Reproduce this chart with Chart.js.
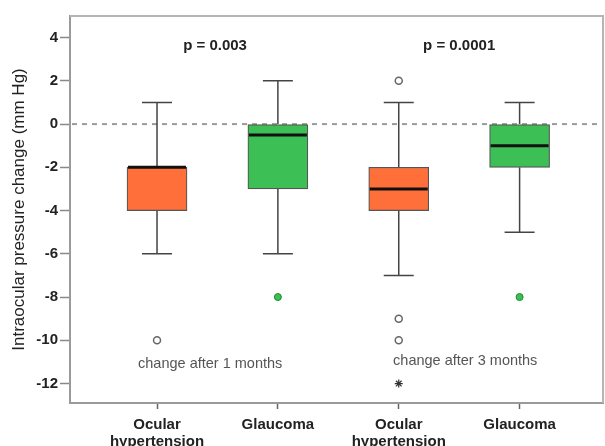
<!DOCTYPE html>
<html>
<head>
<meta charset="utf-8">
<script src="https://cdn.jsdelivr.net/npm/chart.js@4/dist/chart.umd.min.js"></script>
<style>
  html, body { margin: 0; padding: 0; background: #fff; }
  #wrap { width: 605px; height: 446px; }
</style>
</head>
<body>
<div id="wrap"><canvas id="box-chart" width="605" height="446"></canvas></div>
<script>
// Box positions and labels
const positions = [1, 2, 3, 4];
const groupLabels = [['Ocular', 'hypertension'], 'Glaucoma', ['Ocular', 'hypertension'], 'Glaucoma'];
const boxColors = ['#FF6F3A', '#3CBF55', '#FF6F3A', '#3CBF55'];

// Box statistics (mm Hg)
const whiskerLow = [-6, -6, -7, -5];
const q1 = [-4, -3, -4, -2];
const median = [-2, -0.5, -3, -1];
const q3 = [-2, 0, -2, 0];
const whiskerHigh = [1, 2, 1, 1];

// Outliers
const openOutliers = [{ x: 1, y: -10 }, { x: 3, y: 2 }, { x: 3, y: -9 }, { x: 3, y: -10 }];
const greenOutliers = [{ x: 2, y: -8 }, { x: 4, y: -8 }];
const extremeOutliers = [{ x: 3, y: -12 }];

// Y axis ticks
const yTicks = [4, 2, 0, -2, -4, -6, -8, -10, -12];

// Annotations
const pLabels = [{ x: 1.48, y: 3.6, text: 'p = 0.003' }, { x: 3.5, y: 3.6, text: 'p = 0.0001' }];
const periodLabels = [{ x: 1.44, y: -11.1, text: 'change after 1 months' }, { x: 3.55, y: -10.95, text: 'change after 3 months' }];

const boxData = positions.map((p, i) => ({ x: p, y: [q1[i], q3[i]] }));
const FONT = '"Liberation Sans", Arial, sans-serif';

// draws reference line, whiskers, medians, frame and texts
const boxPlugin = {
    id: 'boxExtras',
    beforeDatasetsDraw(chart) {
        const { ctx, chartArea, scales: { x, y } } = chart;
        const y0 = y.getPixelForValue(0);
        ctx.save();
        ctx.strokeStyle = '#9a9a9a';
        ctx.lineWidth = 2;
        ctx.setLineDash([5, 5]);
        ctx.beginPath();
        ctx.moveTo(chartArea.left + 2, y0);
        ctx.lineTo(chartArea.right, y0);
        ctx.stroke();
        ctx.setLineDash([]);

        // whiskers behind the boxes
        ctx.strokeStyle = '#444';
        ctx.lineWidth = 1.5;
        positions.forEach((p, i) => {
            const px = x.getPixelForValue(p);
            const capHalf = 15;
            ctx.beginPath();
            ctx.moveTo(px, y.getPixelForValue(q3[i]));
            ctx.lineTo(px, y.getPixelForValue(whiskerHigh[i]));
            ctx.moveTo(px, y.getPixelForValue(q1[i]));
            ctx.lineTo(px, y.getPixelForValue(whiskerLow[i]));
            ctx.stroke();
            ctx.beginPath();
            ctx.moveTo(px - capHalf, y.getPixelForValue(whiskerHigh[i]));
            ctx.lineTo(px + capHalf, y.getPixelForValue(whiskerHigh[i]));
            ctx.moveTo(px - capHalf, y.getPixelForValue(whiskerLow[i]));
            ctx.lineTo(px + capHalf, y.getPixelForValue(whiskerLow[i]));
            ctx.stroke();
        });
        ctx.restore();
    },
    afterDatasetsDraw(chart) {
        const { ctx, chartArea, scales: { x, y } } = chart;
        ctx.save();
        // medians
        ctx.strokeStyle = '#111';
        ctx.lineWidth = 3;
        positions.forEach((p, i) => {
            const px = x.getPixelForValue(p);
            const py = y.getPixelForValue(median[i]);
            ctx.beginPath();
            ctx.moveTo(px - 29, py);
            ctx.lineTo(px + 29, py);
            ctx.stroke();
        });

        // top and right frame
        ctx.strokeStyle = '#b5b5b5';
        ctx.lineWidth = 2;
        ctx.beginPath();
        ctx.moveTo(chartArea.left, chartArea.top);
        ctx.lineTo(chartArea.right, chartArea.top);
        ctx.lineTo(chartArea.right, chartArea.bottom);
        ctx.stroke();

        // texts
        ctx.textAlign = 'center';
        ctx.textBaseline = 'middle';
        ctx.fillStyle = '#222';
        ctx.font = 'bold 15px ' + FONT;
        pLabels.forEach(l => ctx.fillText(l.text, x.getPixelForValue(l.x), y.getPixelForValue(l.y)));
        ctx.fillStyle = '#555';
        ctx.font = '14.5px ' + FONT;
        periodLabels.forEach(l => ctx.fillText(l.text, x.getPixelForValue(l.x), y.getPixelForValue(l.y)));
        ctx.restore();
    }
};

const ctx = document.getElementById('box-chart').getContext('2d');
new Chart(ctx, {
    type: 'bar',
    data: {
        datasets: [{
            type: 'bar',
            label: 'boxes',
            data: boxData,
            backgroundColor: boxColors,
            borderColor: '#555',
            borderWidth: 1.2,
            borderSkipped: false,
            barThickness: 60,
            order: 2,
        }, {
            type: 'scatter',
            label: 'outliers',
            data: openOutliers,
            pointStyle: 'circle',
            pointRadius: 3.5,
            backgroundColor: '#fff',
            borderColor: '#666',
            borderWidth: 1.5,
            order: 1,
        }, {
            type: 'scatter',
            label: 'outliers green',
            data: greenOutliers,
            pointStyle: 'circle',
            pointRadius: 3.5,
            backgroundColor: '#3CBF55',
            borderColor: '#1E8A30',
            borderWidth: 1,
            order: 1,
        }, {
            type: 'scatter',
            label: 'extreme',
            data: extremeOutliers,
            pointStyle: 'star',
            pointRadius: 4,
            borderColor: '#333',
            borderWidth: 1.2,
            order: 1,
        }],
    },
    options: {
        responsive: false,
        animation: false,
        layout: { autoPadding: false, padding: { left: 0, top: 16, right: 2, bottom: 0 } },
        plugins: {
            legend: { display: false },
            tooltip: { enabled: false },
        },
        scales: {
            x: {
                type: 'linear',
                offset: false,
                min: 0.28,
                max: 4.69,
                afterBuildTicks: scale => { scale.ticks = positions.map(v => ({ value: v })); },
                afterFit: scale => {
                    scale.height = 43;
                    scale.paddingLeft = 0;
                    scale.paddingRight = 0;
                },
                grid: { offset: false, drawOnChartArea: false, tickLength: 6, tickColor: '#666', tickWidth: 1.5 },
                border: { color: '#9a9a9a', width: 2 },
                ticks: {
                    autoSkip: false,
                    maxRotation: 0,
                    padding: 8,
                    color: '#222',
                    font: { family: FONT, size: 15, weight: 'bold', lineHeight: 1.1 },
                    callback: value => groupLabels[positions.indexOf(value)],
                },
            },
            y: {
                min: -12.9,
                max: 5,
                afterBuildTicks: scale => { scale.ticks = yTicks.map(v => ({ value: v })); },
                afterFit: scale => { scale.width = 70; },
                grid: { drawOnChartArea: false, tickLength: 10, tickColor: '#888', tickWidth: 1.5 },
                border: { color: '#9a9a9a', width: 2 },
                ticks: {
                    padding: 2,
                    color: '#222',
                    font: { family: FONT, size: 15, weight: 'bold' },
                },
                title: {
                    display: true,
                    text: 'Intraocular pressure change (mm Hg)',
                    color: '#222',
                    padding: { top: 9, bottom: 0 },
                    font: { family: FONT, size: 17 },
                },
            },
        },
    },
    plugins: [boxPlugin],
});
</script>
</body>
</html>
